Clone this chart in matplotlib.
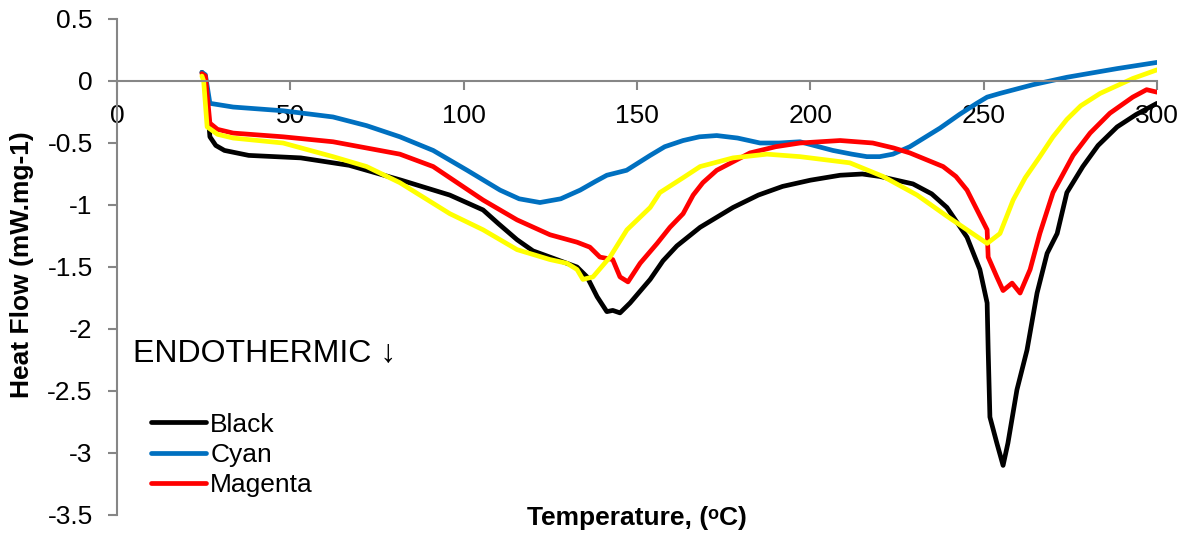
import matplotlib.pyplot as plt
import numpy as np

plt.rcParams['font.family'] = ['Liberation Sans', 'DejaVu Sans']

# DSC curves: temperature (degC), heat flow (mW/mg)
black_t = [24.5, 25.5, 26.8, 28.5, 31.0, 38.0, 53.0, 67.0, 82.0, 96.0, 105.6, 110.0, 115.4,
           120.0, 124.9, 132.7, 135.6, 138.5, 141.3, 143.0, 145.1, 148.0, 153.8, 157.5,
           161.5, 168.2, 177.7, 185.0, 192.0, 200.0, 208.6, 215.0, 220.1, 229.6, 235.0,
           239.4, 245.2, 248.9, 251.0, 251.3, 251.8, 253.8, 255.6, 257.0, 259.6, 262.5,
           265.4, 268.3, 271.2, 274.0, 278.6, 283.0, 288.5, 294.0, 300.0]
black_v = [0.07, 0.02, -0.45, -0.52, -0.56, -0.60, -0.62, -0.68, -0.80, -0.92, -1.04, -1.15,
           -1.28, -1.37, -1.42, -1.50, -1.58, -1.74, -1.86, -1.85, -1.87, -1.79, -1.60,
           -1.45, -1.33, -1.18, -1.02, -0.92, -0.85, -0.80, -0.76, -0.75, -0.77, -0.83,
           -0.91, -1.02, -1.26, -1.52, -1.79, -2.17, -2.71, -2.92, -3.10, -2.92, -2.49,
           -2.17, -1.71, -1.39, -1.23, -0.90, -0.69, -0.52, -0.37, -0.27, -0.18]

cyan_t = [24.5, 25.5, 26.8, 33.5, 47.9, 62.3, 72.0, 81.6, 91.2, 101.0, 110.5, 116.0,
          122.0, 128.0, 133.6, 138.0, 141.3, 147.0, 153.8, 158.0, 163.3, 168.0, 173.0,
          179.0, 185.5, 191.0, 197.0, 206.5, 212.0, 216.3, 220.0, 223.8, 228.7, 237.4,
          243.0, 248.0, 251.0, 254.7, 264.2, 274.0, 288.5, 300.0]
cyan_v = [0.07, 0.05, -0.18, -0.21, -0.24, -0.29, -0.36, -0.45, -0.56, -0.72, -0.88, -0.95,
          -0.98, -0.95, -0.88, -0.81, -0.76, -0.72, -0.60, -0.53, -0.48, -0.45, -0.44,
          -0.46, -0.50, -0.50, -0.49, -0.56, -0.59, -0.61, -0.61, -0.59, -0.53, -0.38,
          -0.27, -0.18, -0.13, -0.10, -0.03, 0.03, 0.10, 0.15]

magenta_t = [24.5, 25.5, 26.8, 29.0, 33.5, 47.9, 62.3, 81.6, 91.2, 96.0, 105.6, 115.4, 124.9,
             132.7, 136.4, 139.3, 143.0, 145.1, 147.4, 150.9, 155.8, 159.5, 163.3, 166.2,
             169.0, 173.0, 182.6, 190.0, 197.0, 208.6, 218.0, 224.0, 228.7, 238.3, 242.0,
             245.2, 249.0, 251.0, 251.3, 253.8, 255.6, 258.2, 260.5, 263.4, 266.2, 270.0,
             275.8, 280.7, 286.4, 293.0, 297.0, 300.0]
magenta_v = [0.06, 0.04, -0.34, -0.39, -0.42, -0.45, -0.49, -0.59, -0.69, -0.78, -0.96, -1.12,
             -1.24, -1.30, -1.34, -1.42, -1.44, -1.58, -1.62, -1.47, -1.31, -1.18, -1.07,
             -0.92, -0.82, -0.72, -0.58, -0.53, -0.50, -0.48, -0.50, -0.54, -0.58, -0.69,
             -0.77, -0.88, -1.09, -1.20, -1.42, -1.58, -1.69, -1.63, -1.71, -1.52, -1.23,
             -0.90, -0.60, -0.42, -0.26, -0.13, -0.07, -0.09]

yellow_t = [24.5, 25.0, 26.0, 29.0, 33.5, 47.9, 62.3, 72.0, 81.6, 96.0, 105.6, 115.4, 124.9,
            129.8, 132.7, 134.4, 137.3, 142.2, 147.1, 153.8, 156.6, 163.3, 168.2, 177.7,
            187.5, 197.0, 211.4, 221.0, 230.8, 239.4, 245.2, 251.0, 254.7, 258.5, 262.0,
            266.2, 270.0, 274.0, 278.0, 283.6, 293.0, 300.0]
yellow_v = [0.04, 0.00, -0.37, -0.43, -0.46, -0.50, -0.61, -0.69, -0.82, -1.07, -1.20, -1.36,
            -1.44, -1.47, -1.52, -1.60, -1.58, -1.42, -1.20, -1.02, -0.90, -0.78, -0.69,
            -0.62, -0.59, -0.61, -0.66, -0.77, -0.92, -1.09, -1.20, -1.31, -1.23, -0.96,
            -0.78, -0.61, -0.45, -0.31, -0.20, -0.10, 0.02, 0.09]

x_ticks = [0, 50, 100, 150, 200, 250, 300]
y_ticks = [-3.5, -3, -2.5, -2, -1.5, -1, -0.5, 0, 0.5]

fig = plt.figure(figsize=(11.88, 5.33), dpi=100)
ax = fig.add_axes([117 / 1188, 18 / 533, 1040 / 1188, 496 / 533])

lw = 3.4
ax.plot(black_t, black_v, color='black', lw=lw, label='Black',
        solid_capstyle='round', solid_joinstyle='round')
ax.plot(cyan_t, cyan_v, color='#0070C0', lw=lw, label='Cyan',
        solid_capstyle='round', solid_joinstyle='round')
ax.plot(magenta_t, magenta_v, color='#FF0000', lw=lw, label='Magenta',
        solid_capstyle='round', solid_joinstyle='round')
ax.plot(yellow_t, yellow_v, color='#FFFF00', lw=lw,
        solid_capstyle='round', solid_joinstyle='round')

ax.set_xlim(0, 300)
ax.set_ylim(-3.5, 0.5)
ax.set_xticks(x_ticks)
ax.set_yticks(y_ticks)
ax.set_xticklabels([str(t) for t in x_ticks])
ax.set_yticklabels([f'{t:g}' for t in y_ticks])

for s in ['top', 'right']:
    ax.spines[s].set_visible(False)
ax.spines['bottom'].set_position(('data', 0))
for s in ['bottom', 'left']:
    ax.spines[s].set_color('#868686')
    ax.spines[s].set_linewidth(1.5)
ax.tick_params(axis='both', direction='out', length=6.5, width=1.5, color='#868686',
               labelsize=19, labelcolor='black')
ax.tick_params(axis='x', pad=10)
ax.tick_params(axis='y', pad=11)

ax.text(0.015, 0.31, 'ENDOTHERMIC \u2193', transform=ax.transAxes, fontsize=23,
        va='baseline', ha='left')

fig.text(637 / 1188, 1 - 518 / 533, 'Temperature, (\u1d52C)', fontsize=19, fontweight='bold',
         ha='center', va='center', family=['Liberation Sans', 'DejaVu Sans'])
fig.text(22 / 1188, 1 - 265 / 533, 'Heat Flow (mW.mg-1)', fontsize=19, fontweight='bold',
         ha='center', va='center', rotation=90)

ax.legend(loc='lower left', bbox_to_anchor=(0.02, 0.01), frameon=False, fontsize=19,
          handlelength=2.1, handletextpad=0.15, labelspacing=0.23, borderpad=0)

fig.savefig('out.png', dpi=100)
